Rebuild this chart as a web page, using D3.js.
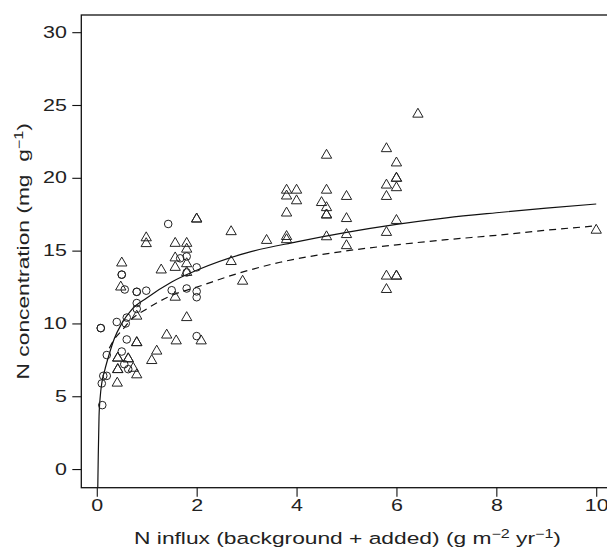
<!DOCTYPE html>
<html>
<head>
<meta charset="utf-8">
<script src="https://cdn.jsdelivr.net/npm/d3@7"></script>
<style>
  body { margin: 0; background: #fff; }
  svg { display: block; font-family: "Liberation Sans", Arial, sans-serif; }
</style>
</head>
<body>
<div id="chart"></div>
<script>
// circles: open symbols (x = N influx, y = N concentration)
const circleX = [1.43, 1.8, 1.67, 2.0, 1.8, 1.5, 1.8, 2.0, 2.0, 2.0, 0.5, 0.5, 0.56, 0.8, 0.8, 0.99,
  0.8, 0.8, 0.6, 0.58, 0.4, 0.08, 0.08, 0.6, 0.5, 0.2, 0.13, 0.2, 0.1, 0.11, 0.63, 0.55];
const circleY = [16.83, 14.6, 14.47, 13.85, 13.5, 12.28, 12.4, 12.2, 11.8, 9.13, 13.35, 13.35, 12.33, 12.17, 12.17, 12.25,
  11.4, 11.0, 10.4, 10.0, 10.1, 9.68, 9.68, 8.9, 8.07, 7.83, 6.4, 6.4, 5.88, 4.39, 6.86, 7.2];

// triangles
const triX = [6.43, 5.8, 4.6, 6.0, 6.0, 6.0, 6.0, 5.8, 5.8, 3.8, 4.0, 3.8, 4.0, 4.6, 5.0, 4.5, 4.6, 4.6, 4.6,
  3.8, 5.0, 6.0, 2.0, 2.0, 5.8, 4.6, 5.0, 5.0, 3.8, 3.8, 3.4, 2.69, 2.69, 2.92, 10.0, 5.8, 6.0, 6.0, 5.8,
  0.99, 0.99, 0.5, 0.48, 1.29, 1.57, 1.57, 1.57, 1.57, 1.8, 1.8, 1.8, 1.8, 1.8, 0.8, 0.8, 0.8, 1.4, 1.59,
  2.09, 1.2, 1.1, 0.42, 0.42, 0.63, 0.63, 0.42, 0.42, 0.73, 0.8, 0.41];
const triY = [24.37, 22.0, 21.55, 21.02, 19.97, 19.97, 19.32, 19.5, 18.72, 19.15, 19.15, 18.75, 18.42, 19.15, 18.72, 18.3, 17.95, 17.45, 17.45,
  17.58, 17.2, 17.07, 17.17, 17.17, 16.25, 15.95, 16.1, 15.34, 15.97, 15.75, 15.7, 16.3, 14.25, 12.9, 16.4, 13.25, 13.25, 13.25, 12.33,
  15.88, 15.48, 14.15, 12.5, 13.67, 15.5, 14.5, 13.85, 11.8, 15.5, 15.1, 14.1, 13.5, 10.4, 10.5, 8.68, 8.68, 9.2, 8.8,
  8.8, 8.1, 7.45, 7.62, 7.62, 7.57, 7.57, 6.83, 6.83, 6.92, 6.47, 5.9];

// fitted curves
const solidX = [0.02, 0.03, 0.045, 0.07, 0.1, 0.16, 0.25, 0.35, 0.5, 0.7, 1, 1.5, 2, 3, 4, 5, 6, 7, 8, 9, 10];
const solidY = [-1.25, 1.0, 3.6, 5.0, 5.9, 6.8, 7.9, 8.95, 10.0, 10.95, 11.75, 12.85, 13.65, 14.85, 15.6, 16.25, 16.8, 17.25, 17.6, 17.92, 18.2];
const dashX = [0.25, 0.35, 0.5, 0.7, 1, 1.45, 2.07, 2.87, 3.67, 4.87, 6, 7, 8, 9, 10];
const dashY = [8.3, 8.9, 9.5, 10.3, 11.0, 11.85, 12.57, 13.48, 14.2, 14.92, 15.4, 15.75, 16.05, 16.4, 16.7];

const xTicks = [0, 2, 4, 6, 8, 10];
const yTicks = [0, 5, 10, 15, 20, 25, 30];

const width = 607, height = 551;
const mLeft = 81.3, mRight = 611.7, mTop = 15, mBottom = 487.7;
const stretch = 1.34; // the lettering in the figure is wider than plain Arial

const svg = d3.select("#chart").append("svg")
  .attr("width", width)
  .attr("height", height);

const x = d3.scaleLinear().domain([-0.31, 10.31]).range([mLeft, mRight]);
const y = d3.scaleLinear().domain([-1.28, 31.18]).range([mBottom, mTop]);

// frame
svg.append("rect")
  .attr("x", mLeft).attr("y", mTop)
  .attr("width", mRight - mLeft).attr("height", mBottom - mTop)
  .attr("fill", "none").attr("stroke", "#111").attr("stroke-width", 1.3);

const yAxis = svg.append("g")
  .attr("transform", `translate(${mLeft},0)`)
  .call(d3.axisLeft(y).tickValues(yTicks).tickSize(9).tickPadding(5.5));
const xAxis = svg.append("g")
  .attr("transform", `translate(0,${mBottom})`)
  .call(d3.axisBottom(x).tickValues(xTicks).tickSize(9).tickPadding(3));

[xAxis, yAxis].forEach(g => {
  g.select(".domain").remove();
  g.selectAll(".tick line").attr("stroke", "#111").attr("stroke-width", 1.1);
  g.selectAll(".tick text")
    .attr("fill", "#222")
    .style("font-size", "16px")
    .style("font-family", "'Liberation Sans', Arial, sans-serif");
});
yAxis.selectAll(".tick text").each(function () {
  const tx = +this.getAttribute("x");
  d3.select(this).attr("x", 0).attr("transform", `translate(${tx},0) scale(${stretch},1)`);
});
xAxis.selectAll(".tick text").attr("transform", `scale(${stretch},1)`);

// curves
const pathGen = d3.line()
  .x(d => x(d[0]))
  .y(d => y(d[1]))
  .curve(d3.curveMonotoneX);

svg.append("path")
  .attr("d", pathGen(d3.zip(solidX, solidY)))
  .attr("fill", "none").attr("stroke", "#111").attr("stroke-width", 1.2);

svg.append("path")
  .attr("d", pathGen(d3.zip(dashX, dashY)))
  .attr("fill", "none").attr("stroke", "#111").attr("stroke-width", 1.2)
  .attr("stroke-dasharray", "7,5");

// points
svg.append("g").selectAll("circle")
  .data(d3.zip(circleX, circleY))
  .join("circle")
  .attr("cx", d => x(d[0]))
  .attr("cy", d => y(d[1]))
  .attr("r", 3.8)
  .attr("fill", "none")
  .attr("stroke", "#222")
  .attr("stroke-width", 1);

const tri = d3.symbol().type(d3.symbolTriangle).size(46);
svg.append("g").selectAll("path")
  .data(d3.zip(triX, triY))
  .join("path")
  .attr("d", tri)
  .attr("transform", d => `translate(${x(d[0])},${y(d[1])})`)
  .attr("fill", "none")
  .attr("stroke", "#222")
  .attr("stroke-width", 1);

// axis titles
const xt = svg.append("text")
  .attr("transform", `translate(${(mLeft + mRight) / 2 + 1},544) scale(${stretch},1)`)
  .attr("text-anchor", "middle")
  .attr("fill", "#222")
  .style("font-size", "17px");
xt.append("tspan").text("N influx (background + added) (g m");
xt.append("tspan").attr("dy", -6).style("font-size", "12px").text("\u22122");
xt.append("tspan").attr("dy", 6).text(" yr");
xt.append("tspan").attr("dy", -6).style("font-size", "12px").text("\u22121");
xt.append("tspan").attr("dy", 6).text(")");

const yt = svg.append("text")
  .attr("transform", `translate(29,${(mTop + mBottom) / 2}) rotate(-90) scale(${stretch},1)`)
  .attr("text-anchor", "middle")
  .attr("fill", "#222")
  .style("font-size", "17px")
  .style("white-space", "pre");
yt.append("tspan").text("N concentration (mg  g");
yt.append("tspan").attr("dy", -6).style("font-size", "12px").text("\u22121");
yt.append("tspan").attr("dy", 6).text(")");
</script>
</body>
</html>
